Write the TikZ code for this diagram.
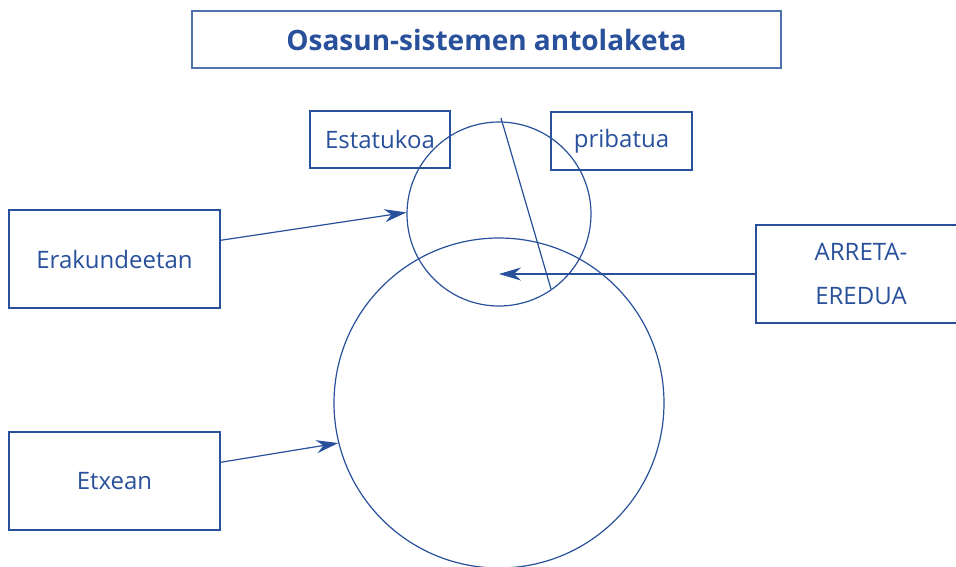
\documentclass[tikz,border=0pt]{standalone}
\usepackage{fontspec}
\setmainfont{Open Sans}
\usetikzlibrary{arrows.meta}
\definecolor{eredublue}{RGB}{40,80,155}
\definecolor{titleline}{RGB}{80,115,175}

\begin{document}
\begin{tikzpicture}[x=1pt, y=-1pt, line width=1.2pt, color=eredublue,
  box/.style={draw, rectangle, minimum width=211pt, minimum height=98pt, inner sep=0pt, align=center, font=\fontsize{24}{44}\selectfont},
  smallbox/.style={box, minimum width=140pt, minimum height=57pt},
  ring/.style={draw, circle, inner sep=0pt},
  arr/.style={-{Stealth[length=22pt, width=13pt, inset=7pt]}}]
  \useasboundingbox (0,0) rectangle (956,566);
  \clip (0,0) rectangle (956,566);
  \node[box, draw=titleline, minimum width=589pt, minimum height=57pt, font=\fontsize{28}{30}\selectfont\bfseries] (title) at (486.5,39.5) {Osasun-sistemen antolaketa};
  \node[smallbox] (estatu) at (380,139.5) {Estatukoa};
  \node[smallbox, minimum width=141pt, minimum height=58pt] (priba) at (621.5,141) {pribatua};
  \node[box] (erak) at (114.5,259) {Erakundeetan};
  \node[box] (etxe) at (114.5,481) {Etxean};
  \node[box, minimum width=210pt] (arreta) at (861,274) {ARRETA-\\EREDUA};
  \node[ring, minimum size=184pt] (small) at (499,214) {};
  \node[ring, minimum size=330pt] (big) at (499,403) {};
  \coordinate (cuttop) at (501,118);
  \coordinate (cutbot) at (551,289);
  \draw (cuttop) -- (cutbot);
  \draw[arr] (erak.10) -- (small.179);
  \draw[arr] (etxe.10) -- (big.194);
  \draw[arr] (arreta.west) -- (arreta.west -| big.north);
\end{tikzpicture}
\end{document}
